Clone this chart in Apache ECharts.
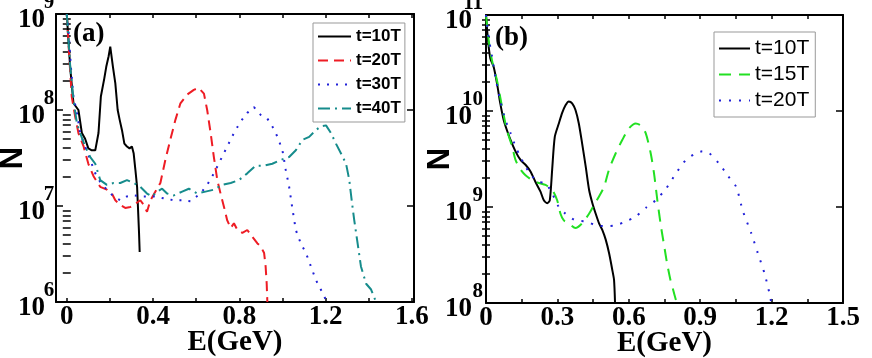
<!DOCTYPE html>
<html><head><meta charset="utf-8">
<script src="https://cdn.jsdelivr.net/npm/echarts@6/dist/echarts.min.js"></script>
<style>html,body{margin:0;padding:0;background:#fff}#c{width:872px;height:358px}</style>
</head><body><div id="c"></div>
<script>
// ---------- Panel (a): E in GeV, log10(N) ----------
const a10_E = [0,0.0155,0.031,0.054,0.07,0.085,0.10,0.116,0.132,0.147,0.158,0.174,0.183,0.194,0.2016,0.214,0.225,0.236,0.245,0.256,0.267,0.279,0.291,0.302,0.310,0.318,0.326,0.330,0.335,0.338];
const a10_logN = [9.0,8.45,8.07,8.0,7.76,7.70,7.60,7.58,7.58,7.76,8.14,8.33,8.45,8.56,8.66,8.45,8.28,8.0,7.90,7.79,7.65,7.62,7.60,7.62,7.55,7.38,7.20,6.99,6.72,6.52];
const a20_E = [0,0.0124,0.023,0.039,0.054,0.078,0.10,0.124,0.155,0.186,0.209,0.225,0.248,0.271,0.295,0.31,0.341,0.357,0.372,0.388,0.411,0.434,0.457,0.48,0.504,0.527,0.558,0.589,0.612,0.636,0.651,0.667,0.682,0.698,0.713,0.729,0.744,0.76,0.775,0.791,0.814,0.837,0.86,0.884,0.899,0.915,0.922,0.927,0.93];
const a20_logN = [9.0,8.52,8.14,7.93,7.76,7.62,7.44,7.31,7.20,7.17,7.13,7.06,7.01,6.98,6.99,7.01,7.06,7.01,6.94,7.06,7.15,7.24,7.48,7.69,7.90,8.07,8.16,8.21,8.23,8.17,8.0,7.76,7.51,7.27,7.13,6.99,6.85,6.77,6.82,6.75,6.72,6.75,6.68,6.61,6.58,6.51,6.37,6.19,6.0];
const a30_E = [0,0.008,0.019,0.031,0.047,0.062,0.085,0.109,0.132,0.155,0.186,0.217,0.248,0.279,0.31,0.357,0.403,0.45,0.496,0.535,0.574,0.62,0.651,0.682,0.713,0.744,0.775,0.806,0.837,0.868,0.899,0.93,0.953,0.977,1.0,1.015,1.031,1.047,1.062,1.085,1.109,1.132,1.155,1.178,1.202];
const a30_logN = [9.0,8.83,8.45,8.14,7.97,7.76,7.62,7.48,7.34,7.25,7.17,7.10,7.06,7.10,7.11,7.10,7.10,7.08,7.06,7.06,7.05,7.13,7.22,7.34,7.48,7.62,7.76,7.88,7.97,8.03,7.95,7.91,7.83,7.72,7.58,7.38,7.20,6.96,6.75,6.61,6.51,6.37,6.23,6.13,6.02];
const a40_E = [0,0.016,0.031,0.047,0.062,0.085,0.109,0.132,0.155,0.186,0.217,0.248,0.279,0.31,0.341,0.372,0.395,0.419,0.442,0.465,0.496,0.535,0.566,0.605,0.643,0.682,0.721,0.76,0.798,0.837,0.876,0.915,0.953,0.992,1.031,1.062,1.093,1.124,1.155,1.178,1.202,1.225,1.248,1.271,1.295,1.31,1.321,1.333,1.346,1.364,1.388,1.411,1.434];
const a40_logN = [9.0,8.45,8.10,7.86,7.76,7.62,7.51,7.44,7.27,7.22,7.24,7.24,7.27,7.24,7.20,7.13,7.10,7.15,7.18,7.13,7.11,7.15,7.18,7.13,7.15,7.17,7.22,7.24,7.27,7.34,7.42,7.42,7.44,7.48,7.51,7.58,7.69,7.72,7.79,7.83,7.84,7.76,7.65,7.55,7.44,7.27,7.06,6.85,6.65,6.37,6.19,6.13,6.0];

// ---------- Panel (b) ----------
const b10_E = [0,0.0084,0.018,0.032,0.046,0.060,0.074,0.088,0.103,0.124,0.145,0.166,0.187,0.208,0.229,0.243,0.257,0.268,0.278,0.289,0.306,0.32,0.334,0.348,0.362,0.376,0.39,0.404,0.419,0.433,0.447,0.461,0.475,0.489,0.503,0.517,0.531,0.538,0.542];
const b10_logN = [11.0,10.74,10.55,10.46,10.29,10.08,9.91,9.80,9.70,9.58,9.49,9.44,9.37,9.26,9.16,9.07,9.04,9.07,9.39,9.73,9.87,9.98,10.06,10.10,10.08,10.01,9.87,9.66,9.42,9.18,9.04,8.93,8.83,8.76,8.66,8.52,8.34,8.24,8.01];
const b15_E = [0,0.011,0.025,0.046,0.067,0.088,0.11,0.124,0.145,0.166,0.194,0.222,0.25,0.278,0.299,0.313,0.327,0.348,0.376,0.404,0.433,0.454,0.475,0.496,0.517,0.545,0.573,0.601,0.629,0.65,0.671,0.692,0.706,0.72,0.735,0.749,0.761,0.775,0.786,0.798];
const b15_logN = [11.0,10.74,10.53,10.32,10.05,9.80,9.63,9.49,9.39,9.33,9.28,9.25,9.23,9.18,9.07,8.93,8.86,8.83,8.78,8.83,8.93,9.02,9.11,9.21,9.39,9.56,9.70,9.82,9.87,9.85,9.77,9.56,9.35,9.07,8.80,8.59,8.41,8.24,8.14,8.03];
const b20_E = [0,0.011,0.025,0.039,0.060,0.081,0.103,0.124,0.145,0.166,0.194,0.222,0.25,0.278,0.306,0.334,0.376,0.419,0.461,0.503,0.545,0.587,0.629,0.671,0.713,0.756,0.798,0.84,0.882,0.91,0.938,0.98,1.015,1.051,1.079,1.114,1.142,1.17,1.191,1.198];
const b20_logN = [11.0,10.77,10.57,10.36,10.11,9.91,9.77,9.63,9.52,9.42,9.32,9.26,9.25,9.14,9.0,8.93,8.86,8.85,8.81,8.80,8.81,8.85,8.90,8.99,9.07,9.19,9.35,9.49,9.56,9.58,9.56,9.45,9.33,9.21,8.96,8.73,8.52,8.31,8.10,8.01];

// ---------- Tick labels ----------
const a_xLabels = [0, 0.4, 0.8, 1.2, 1.6];
const a_xTicks = [0, 0.2, 0.4, 0.6, 0.8, 1.0, 1.2, 1.4, 1.6];
const b_xLabels = [0, 0.3, 0.6, 0.9, 1.2, 1.5];
const b_xTicks = [0, 0.15, 0.3, 0.45, 0.6, 0.75, 0.9, 1.05, 1.2, 1.35, 1.5];
const a_yDecades = [1e6, 1e7, 1e8, 1e9];
const b_yDecades = [1e8, 1e9, 1e10, 1e11];
const minorMantissa = [2, 3, 4, 5, 6, 7, 8, 9];

const SERIF = '"Liberation Serif", "Times New Roman", serif';
const SANS = '"Liberation Sans", Arial, sans-serif';

function minorsOf(decades) {
  const out = [];
  for (let i = 0; i < decades.length - 1; i++) minorMantissa.forEach(m => out.push(m * decades[i]));
  return out;
}
const toPairs = (E, L) => E.map((e, i) => [e, Math.pow(10, L[i])]);

const panels = [
  { grid: { left: 56, top: 14, width: 358, height: 288 }, xmin: -0.05, xmax: 1.61, xl: a_xLabels, xt: a_xTicks, yd: a_yDecades,
    nGap: 27, baseW: 23, supW: 12, supAlign: 'left', lblMargin: 1 },
  { grid: { left: 486, top: 15, width: 357, height: 288 }, xmin: 0, xmax: 1.5, xl: b_xLabels, xt: b_xTicks, yd: b_yDecades,
    nGap: 30, baseW: 27, supW: 11, supAlign: 'right', lblMargin: 3 }
];

const axLine = { show: true, onZero: false, lineStyle: { color: '#000', width: 2 } };
const tickLS = { color: '#000', width: 1.5 };
const xAxis = [], yAxis = [], grid = [];
panels.forEach((p, i) => {
  grid.push(Object.assign({ containLabel: false, outerBoundsMode: 'none' }, p.grid));
  xAxis.push({
    gridIndex: i, type: 'value', position: 'bottom', min: p.xmin, max: p.xmax,
    axisLine: axLine,
    axisTick: { show: true, inside: true, length: 4, customValues: p.xt, lineStyle: tickLS },
    axisLabel: { customValues: p.xl, formatter: v => (Math.abs(v) < 1e-9 ? '0' : v.toFixed(1)),
      fontFamily: SERIF, fontWeight: 'bold', fontSize: 27, color: '#000', margin: 2, hideOverlap: false },
    splitLine: { show: false },
    name: 'E(GeV)', nameLocation: 'middle', nameGap: 26, nameMoveOverlap: false,
    nameTextStyle: { fontFamily: SERIF, fontWeight: 'bold', fontSize: 29, color: '#000' }
  });
  xAxis.push({
    gridIndex: i, type: 'value', position: 'top', min: p.xmin, max: p.xmax,
    axisLine: axLine,
    axisTick: { show: true, inside: true, length: 4, customValues: p.xt, lineStyle: tickLS },
    axisLabel: { show: false }, splitLine: { show: false }
  });
  const ymin = p.yd[0], ymax = p.yd[p.yd.length - 1];
  const minors = minorsOf(p.yd);
  yAxis.push({
    gridIndex: i, type: 'log', logBase: 10, min: ymin, max: ymax, position: 'left',
    axisLine: axLine,
    axisTick: { show: true, inside: true, length: 7, customValues: p.yd, lineStyle: tickLS },
    axisLabel: {
      customValues: p.yd, margin: p.lblMargin,
      formatter: v => '{b|10}{s|' + Math.round(Math.log10(v)) + '}',
      rich: {
        b: { fontFamily: SERIF, fontWeight: 'bold', fontSize: 27, color: '#000', width: p.baseW, lineHeight: 27, padding: [13, 0, 0, 0] },
        s: { fontFamily: SERIF, fontWeight: 'bold', fontSize: 21, color: '#000', width: p.supW, align: p.supAlign, lineHeight: 21, padding: [0, 0, 22, 0] }
      }
    },
    splitLine: { show: false },
    name: 'N', nameLocation: 'middle', nameRotate: 90, nameGap: p.nGap, nameMoveOverlap: false,
    nameTextStyle: { fontFamily: SANS, fontWeight: 'bold', fontSize: 31, color: '#000' }
  });
  yAxis.push({
    gridIndex: i, type: 'log', logBase: 10, min: ymin, max: ymax, position: 'left', offset: 0,
    axisLine: { show: false },
    axisTick: { show: true, inside: true, length: 4, customValues: minors, lineStyle: tickLS },
    axisLabel: { show: false }, splitLine: { show: false }
  });
  yAxis.push({
    gridIndex: i, type: 'log', logBase: 10, min: ymin, max: ymax, position: 'right', offset: 0,
    axisLine: axLine,
    axisTick: { show: true, inside: true, length: 7, customValues: p.yd, lineStyle: tickLS },
    axisLabel: { show: false }, splitLine: { show: false }
  });
  yAxis.push({
    gridIndex: i, type: 'log', logBase: 10, min: ymin, max: ymax, position: 'right', offset: 0,
    axisLine: { show: false },
    axisTick: { show: true, inside: true, length: 4, customValues: minors, lineStyle: tickLS },
    axisLabel: { show: false }, splitLine: { show: false }
  });
});

function line(name, panel, E, L, color, type, smooth) {
  return {
    name, type: 'line', xAxisIndex: panel * 2, yAxisIndex: panel * 4,
    data: toPairs(E, L), symbol: 'none', smooth: smooth || false, clip: true,
    lineStyle: { color, width: 2, type }, itemStyle: { color }
  };
}

const series = [
  line('t=10T', 0, a10_E, a10_logN, '#000000', 'solid'),
  line('t=20T', 0, a20_E, a20_logN, '#ee1c24', [10, 6]),
  line('t=30T', 0, a30_E, a30_logN, '#2020d8', [2, 7]),
  line('t=40T', 0, a40_E, a40_logN, '#168c8c', [12, 5, 2, 5]),
  line('b:t=10T', 1, b10_E, b10_logN, '#000000', 'solid', 0.25),
  line('b:t=15T', 1, b15_E, b15_logN, '#22e022', [12, 8], 0.25),
  line('b:t=20T', 1, b20_E, b20_logN, '#2020d8', [2, 8], 0.25)
];

const option = {
  animation: false,
  backgroundColor: '#fff',
  grid, xAxis, yAxis, series,
  legend: [
    { data: ['t=10T', 't=20T', 't=30T', 't=40T'], orient: 'vertical', left: 313, top: 23,
      itemWidth: 33, itemHeight: 12, itemGap: 7, padding: [5, 4, 5, 4],
      borderColor: '#999', borderWidth: 1, backgroundColor: '#fff', selectedMode: false,
      itemStyle: { opacity: 0 },
      textStyle: { fontFamily: SANS, fontWeight: 'bold', fontSize: 17, color: '#000' } },
    { data: ['b:t=10T', 'b:t=15T', 'b:t=20T'], orient: 'vertical', left: 714, top: 32,
      itemWidth: 31, itemHeight: 12, itemGap: 5, padding: [6, 6, 6, 4],
      borderColor: '#999', borderWidth: 1, backgroundColor: '#fff', selectedMode: false,
      itemStyle: { opacity: 0 },
      formatter: n => n.replace(/^b:/, ''),
      textStyle: { fontFamily: SANS, fontSize: 21, color: '#000' } }
  ],
  graphic: [
    { type: 'text', left: 73, top: 21, style: { text: '(a)', font: 'bold 27px "Liberation Serif"', fill: '#000' } },
    { type: 'text', left: 495, top: 25, style: { text: '(b)', font: 'bold 27px "Liberation Serif"', fill: '#000' } }
  ]
};
const chart = echarts.init(document.getElementById('c'));
chart.setOption(option);
</script>
</body></html>
